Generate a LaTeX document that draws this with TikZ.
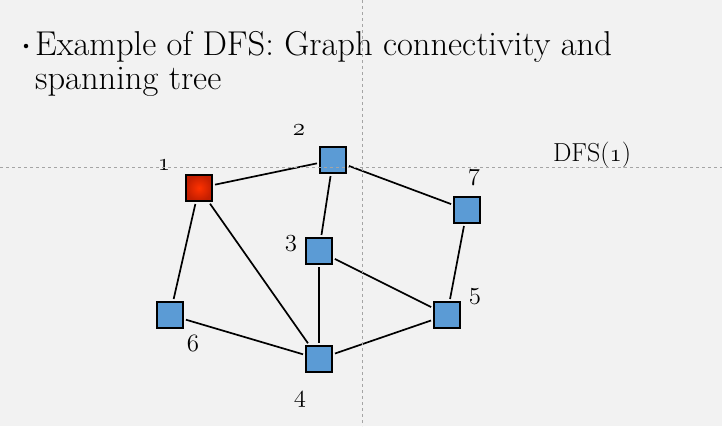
\documentclass[tikz,border=0pt]{standalone}
\usepackage{fontspec}
\usetikzlibrary{positioning}
\definecolor{slidebg}{RGB}{242,242,242}
\definecolor{vblue}{RGB}{91,155,213}
\definecolor{vred}{RGB}{255,50,0}
\definecolor{vdark}{RGB}{195,30,0}
\definecolor{guide}{RGB}{165,165,165}
\newcommand\osn[1]{{\usefont{OML}{cmm}{m}{it}#1}}
\tikzset{
  vtx/.style={draw=black, line width=2.1pt, fill=vblue, minimum size=26pt, inner sep=0pt},
  root/.style={vtx, shading=radial, inner color=vred, outer color=vdark},
  lbl/.style={anchor=base, inner sep=0pt, font=\fontsize{25}{25}\selectfont},
  link/.style={line width=1.7pt, shorten >=2pt, shorten <=2pt},
  title/.style={anchor=north west, inner sep=0pt, align=left, font=\fontsize{34.5}{34}\selectfont}
}

\begin{document}
\begin{tikzpicture}[x=1pt, y=-1pt]
  \fill[slidebg] (0,0) rectangle (722,426);
  \useasboundingbox (0,0) rectangle (722,426);

  % heading
  \node[circle, fill=black, inner sep=0pt, minimum size=4.5pt] (bul) at (26,46) {};
  \node[title] (head) at (35,31) {Example of DFS: Graph connectivity and\\spanning tree};

  % vertices
  \node[root] (v1) at (199,188) {};
  \node[vtx] (v2) at (333,160) {};
  \node[vtx] (v3) at (319,251) {};
  \node[vtx] (v4) at (319,359) {};
  \node[vtx] (v5) at (447,315) {};
  \node[vtx] (v6) at (170,315) {};
  \node[vtx] (v7) at (467,210) {};

  % edges
  \draw[link] (v1) -- (v2);
  \draw[link] (v1) -- (v6);
  \draw[link] (v1) -- (v4);
  \draw[link] (v2) -- (v3);
  \draw[link] (v2) -- (v7);
  \draw[link] (v3) -- (v4);
  \draw[link] (v3) -- (v5);
  \draw[link] (v7) -- (v5);
  \draw[link] (v6) -- (v4);
  \draw[link] (v4) -- (v5);

  % vertex numbers
  \node[lbl] (n1) at (164,170) {\osn{1}};
  \node[lbl] (n2) at (299,135) {\osn{2}};
  \node[lbl] (n3) at (291,246) {\osn{3}};
  \node[lbl] (n4) at (300,402) {\osn{4}};
  \node[lbl] (n5) at (475,299) {\osn{5}};
  \node[lbl] (n6) at (193,351) {\osn{6}};
  \node[lbl] (n7) at (474,180) {\osn{7}};
  \node[lbl, font=\fontsize{26}{26}\selectfont] (call) at (592,161) {DFS(\osn{1})};

  % guides
  \draw[guide, line width=0.8pt, dash pattern=on 3pt off 3pt] (362,0) -- (362,426);
  \draw[guide, line width=0.8pt, dash pattern=on 3pt off 3pt] (0,167) -- (722,167);
\end{tikzpicture}
\end{document}
